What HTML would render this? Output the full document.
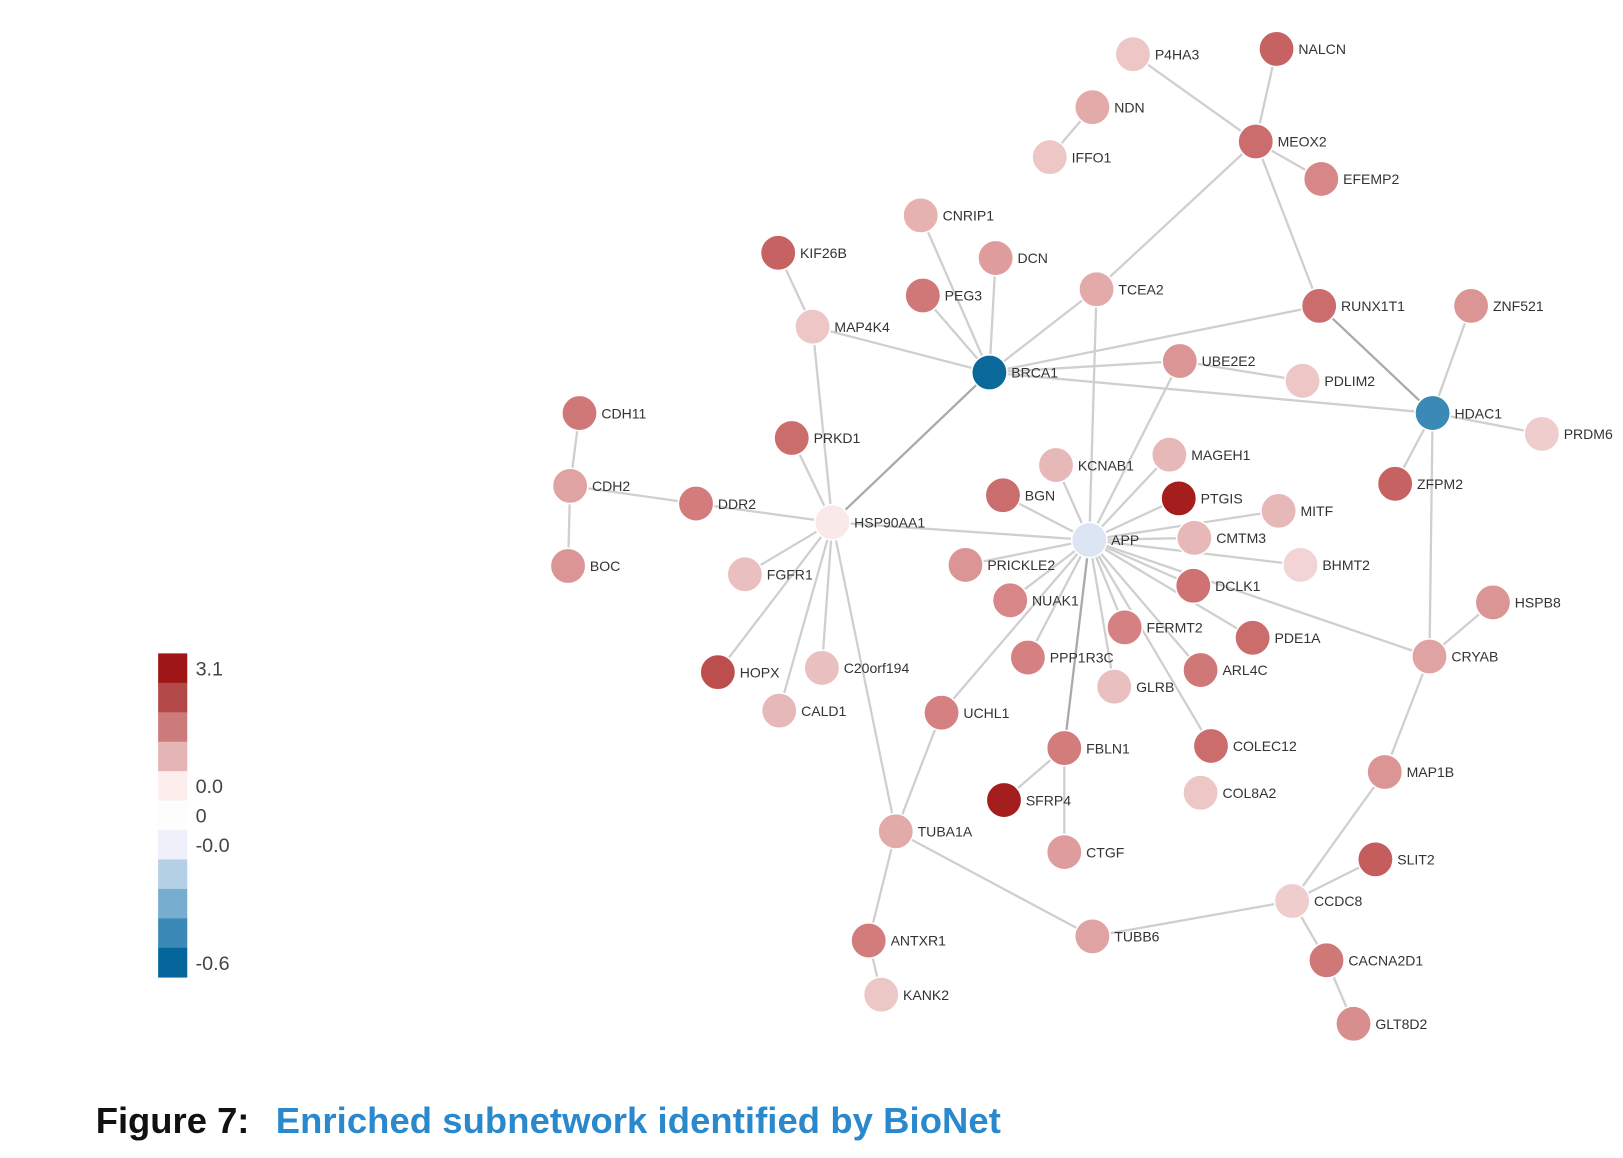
<!DOCTYPE html>
<html><head><meta charset="utf-8"><style>
html,body{margin:0;padding:0;background:#fff;}
svg{display:block;}
</style></head><body>
<svg id="chart" width="1623" height="1158" viewBox="0 0 1560 1113" xmlns="http://www.w3.org/2000/svg" font-family="Liberation Sans, Arial, sans-serif">
<g id="edges"></g>
<g id="nodes"></g>
<g id="legend"></g>
<text x="92" y="1089" font-size="35" font-weight="bold" fill="#111">Figure 7:</text>
<text x="265" y="1089" font-size="35" font-weight="bold" fill="#2a88cc" textLength="697">Enriched subnetwork identified by BioNet</text>
</svg>
<script>
const nodeNames = ["P4HA3","NALCN","NDN","IFFO1","MEOX2","EFEMP2","CNRIP1","KIF26B","DCN","PEG3","TCEA2","MAP4K4","RUNX1T1","ZNF521","BRCA1","UBE2E2","PDLIM2","HDAC1","PRDM6","CDH11","PRKD1","CDH2","KCNAB1","MAGEH1","ZFPM2","BGN","PTGIS","MITF","DDR2","HSP90AA1","APP","CMTM3","BOC","FGFR1","PRICKLE2","BHMT2","DCLK1","NUAK1","HSPB8","FERMT2","PDE1A","CRYAB","HOPX","C20orf194","PPP1R3C","GLRB","ARL4C","CALD1","UCHL1","FBLN1","COLEC12","MAP1B","SFRP4","COL8A2","TUBA1A","CTGF","SLIT2","CCDC8","TUBB6","ANTXR1","CACNA2D1","KANK2","GLT8D2"];
const nodeX = [1089,1227,1050,1009,1207,1270,885,748,957,887,1054,781,1268,1414,951,1134,1252,1377,1482,557,761,548,1015,1124,1341,964,1133,1229,669,800,1047,1148,546,716,928,1250,1147,971,1435,1081,1204,1374,690,790,988,1071,1154,749,905,1023,1164,1331,965,1154,861,1023,1322,1242,1050,835,1275,847,1301];
const nodeY = [52,47,103,151,136,172,207,243,248,284,278,314,294,294,358,347,366,397,417,397,421,467,447,437,465,476,479,491,484,502,519,517,544,552,543,543,563,577,579,603,613,631,646,642,632,660,644,683,685,719,717,742,769,762,799,819,826,866,900,904,923,956,984];
const nodeValues = [0.6,2.2,1.0,0.6,2.0,1.5,0.9,2.2,1.2,1.8,1.0,0.6,2.0,1.3,-0.6,1.3,0.6,-0.45,0.5,1.8,2.0,1.1,0.8,0.8,2.2,2.0,3.1,0.8,1.7,0.1,-0.05,0.8,1.3,0.7,1.3,0.4,1.9,1.5,1.3,1.6,2.0,1.1,2.5,0.7,1.6,0.7,1.8,0.8,1.6,1.7,2.0,1.3,3.1,0.6,1.0,1.2,2.3,0.5,1.1,1.7,1.8,0.6,1.4];
const edgeFrom = ["P4HA3","NALCN","NDN","MEOX2","MEOX2","MEOX2","CNRIP1","DCN","PEG3","KIF26B","MAP4K4","MAP4K4","TCEA2","TCEA2","BRCA1","BRCA1","BRCA1","BRCA1","UBE2E2","UBE2E2","RUNX1T1","ZNF521","HDAC1","HDAC1","HDAC1","CDH11","CDH2","CDH2","DDR2","PRKD1","HSP90AA1","HSP90AA1","HSP90AA1","HSP90AA1","HSP90AA1","HSP90AA1","APP","APP","APP","APP","APP","APP","APP","APP","APP","APP","APP","APP","APP","APP","APP","APP","APP","APP","APP","UCHL1","FBLN1","FBLN1","TUBA1A","ANTXR1","TUBA1A","TUBB6","CCDC8","MAP1B","CRYAB","CCDC8","CCDC8","CACNA2D1"];
const edgeTo = ["MEOX2","MEOX2","IFFO1","EFEMP2","TCEA2","RUNX1T1","BRCA1","BRCA1","BRCA1","MAP4K4","BRCA1","HSP90AA1","BRCA1","APP","RUNX1T1","UBE2E2","HDAC1","HSP90AA1","PDLIM2","APP","HDAC1","HDAC1","PRDM6","ZFPM2","CRYAB","CDH2","BOC","DDR2","HSP90AA1","HSP90AA1","FGFR1","HOPX","C20orf194","CALD1","TUBA1A","APP","KCNAB1","MAGEH1","BGN","PTGIS","MITF","CMTM3","BHMT2","PRICKLE2","DCLK1","NUAK1","FERMT2","PDE1A","PPP1R3C","GLRB","ARL4C","COLEC12","FBLN1","UCHL1","CRYAB","TUBA1A","SFRP4","CTGF","ANTXR1","KANK2","TUBB6","CCDC8","MAP1B","CRYAB","HSPB8","SLIT2","CACNA2D1","GLT8D2"];
const legendLabels = ["3.1","","","","0.0","0","-0.0","","","","-0.6"];
const legendColors = ["#9e1616","#b34848","#cd7a7a","#e5b4b4","#fdeeee","#fdfdfd","#f0f0fb","#b4d0e5","#77aecf","#3b89b7","#05669b"];

const NS="http://www.w3.org/2000/svg";
function colorFor(v){
  const lerp=(a,b,t)=>Math.round(a+(b-a)*t);
  let stops,t;
  if(v>=0){ t=Math.min(v/3.1,1); stops=[[253,240,240],[232,186,186],[214,132,132],[196,92,92],[165,30,30]]; }
  else { t=Math.min(-v/0.6,1); stops=[[240,240,251],[180,208,229],[119,174,207],[59,137,183],[10,104,155]]; }
  const p=t*(stops.length-1), i=Math.min(Math.floor(p),stops.length-2), f=p-i;
  return `rgb(${lerp(stops[i][0],stops[i+1][0],f)},${lerp(stops[i][1],stops[i+1][1],f)},${lerp(stops[i][2],stops[i+1][2],f)})`;
}
const darkEdges = ["BRCA1-HSP90AA1","APP-FBLN1","RUNX1T1-HDAC1"];
const idx={}; nodeNames.forEach((n,i)=>idx[n]=i);
const eg=document.getElementById('edges');
for(let k=0;k<edgeFrom.length;k++){
  const a=idx[edgeFrom[k]], b=idx[edgeTo[k]];
  const l=document.createElementNS(NS,'line');
  
  
  l.setAttribute('x1',nodeX[a]);l.setAttribute('y1',nodeY[a]);
  l.setAttribute('x2',nodeX[b]);l.setAttribute('y2',nodeY[b]);
  const dark=darkEdges.includes(edgeFrom[k]+'-'+edgeTo[k]);
  l.setAttribute('stroke',dark?'#aaaaaa':'#cfcfcf');l.setAttribute('stroke-width','2.2');
  eg.appendChild(l);
}
const ng=document.getElementById('nodes');
for(let i=0;i<nodeNames.length;i++){
  const g=document.createElementNS(NS,'g');
  
  
  const c=document.createElementNS(NS,'circle');
  
  
  c.setAttribute('cx',nodeX[i]);c.setAttribute('cy',nodeY[i]);c.setAttribute('r',17);
  c.setAttribute('fill',colorFor(nodeValues[i]));c.setAttribute('stroke','#ffffff');c.setAttribute('stroke-width','1.5');
  g.appendChild(c);
  const t=document.createElementNS(NS,'text');
  
  
  t.setAttribute('x',nodeX[i]+21);t.setAttribute('y',nodeY[i]+5);
  t.setAttribute('font-size','13.5');t.setAttribute('fill','#333');
  t.textContent=nodeNames[i];
  g.appendChild(t);
  ng.appendChild(g);
}
const lg=document.getElementById('legend');
const cellH=28.3, lx=152, ly=628;
for(let i=0;i<legendColors.length;i++){
  const r=document.createElementNS(NS,'rect');
  
  
  r.setAttribute('x',lx);r.setAttribute('y',ly+i*cellH);r.setAttribute('width',28);r.setAttribute('height',cellH+0.3);
  r.setAttribute('fill',legendColors[i]);
  lg.appendChild(r);
  if(legendLabels[i]){
    const t=document.createElementNS(NS,'text');
    
    
    t.setAttribute('x',lx+36);t.setAttribute('y',ly+i*cellH+cellH/2+7);
    t.setAttribute('font-size','19');t.setAttribute('fill','#444');
    t.textContent=legendLabels[i];
    lg.appendChild(t);
  }
}
</script>
</body></html>
